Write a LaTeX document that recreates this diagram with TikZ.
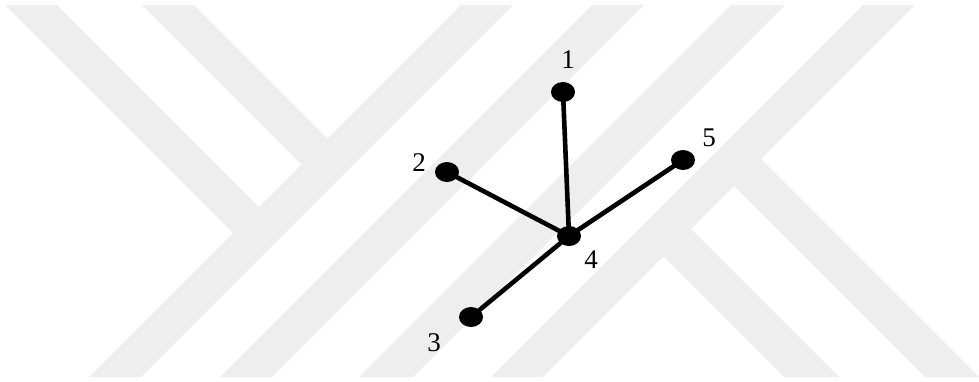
\documentclass[tikz,border=0pt]{standalone}
\usepackage{fontspec}
\setmainfont{Liberation Serif}
\usetikzlibrary{shapes.geometric}
\definecolor{wm}{RGB}{238,238,238}
\tikzset{
  vtx/.style={ellipse, fill=black, minimum width=12pt, minimum height=10pt, inner sep=0pt},
  lbl/.style={font=\fontsize{13.5pt}{15pt}\selectfont, inner sep=0pt},
  edge/.style={line width=2.3pt, black},
  band/.style={fill=wm}
}
\begin{document}
\begin{tikzpicture}[x=0.5pt,y=-0.5pt]
\useasboundingbox (0,0) rectangle (979,381);
% watermark bands
\fill[band] (5,5) -- (57,5) -- (259,207) -- (233,233) -- cycle;
\fill[band] (142,5) -- (194,5) -- (327.5,138.5) -- (301.5,164.5) -- cycle;
\fill[band] (461,5) -- (513,5) -- (141,377) -- (89,377) -- cycle;
\fill[band] (592,5) -- (644,5) -- (272,377) -- (220,377) -- cycle;
\fill[band] (731,5) -- (785,5) -- (413,377) -- (359,377) -- cycle;
\fill[band] (863,5) -- (915,5) -- (543,377) -- (491,377) -- cycle;
\fill[band] (761,159) -- (979,377) -- (925,377) -- (734,186) -- cycle;
\fill[band] (691,229) -- (839,377) -- (784,377) -- (663.5,256.5) -- cycle;
% graph
\node[vtx] (n1) at (563,92) {};
\node[vtx] (n2) at (447,172) {};
\node[vtx] (n3) at (471,317) {};
\node[vtx] (n4) at (569,236) {};
\node[vtx] (n5) at (683,160) {};
\draw[edge] (n1.center) -- (n4.center);
\draw[edge] (n2.center) -- (n4.center);
\draw[edge] (n3.center) -- (n4.center);
\draw[edge] (n5.center) -- (n4.center);
\node[lbl] (l1) at (568,60) {1};
\node[lbl] (l2) at (419,163) {2};
\node[lbl] (l3) at (434,343) {3};
\node[lbl] (l4) at (591,260) {4};
\node[lbl] (l5) at (709,138) {5};
\end{tikzpicture}
\end{document}
